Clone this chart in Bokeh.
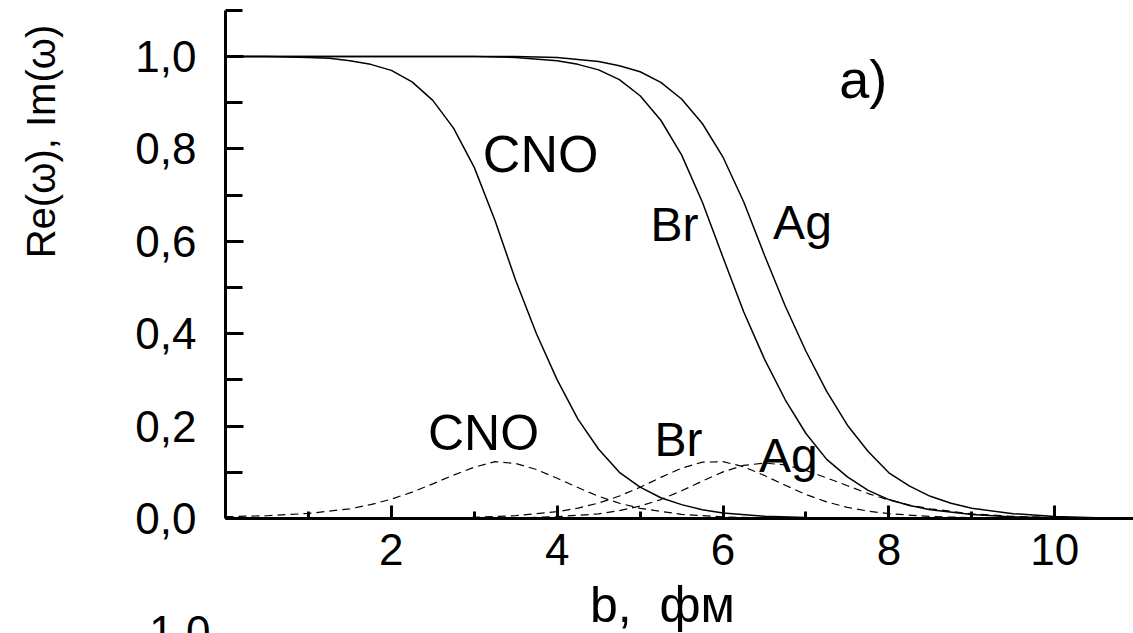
from bokeh.plotting import figure
from bokeh.models import Range1d, FixedTicker, CustomJSTickFormatter, Label, LinearAxis
from bokeh.embed import file_html
from bokeh.resources import INLINE

# ---- data ----
cno_re_x = [0, 0.5, 1.0, 1.25, 1.5, 1.75, 2.0, 2.25, 2.5, 2.75, 3.0, 3.25, 3.5, 3.75, 4.0, 4.25, 4.5, 4.75,
            5.0, 5.25, 5.5, 5.75, 6.0, 6.5, 7.0, 8.0, 9.0, 10.0, 11.0]
cno_re_y = [1.0, 1.0, 0.998, 0.996, 0.991, 0.983, 0.97, 0.945, 0.905, 0.845, 0.76, 0.645, 0.515, 0.40, 0.30,
            0.215, 0.15, 0.10, 0.068, 0.045, 0.03, 0.019, 0.012, 0.005, 0.002, 0.0004, 0.0001, 0.0, 0.0]

br_re_x = [0, 3.0, 3.5, 4.0, 4.25, 4.5, 4.75, 5.0, 5.25, 5.5, 5.75, 6.0, 6.25, 6.5, 6.75, 7.0, 7.25, 7.5,
           7.75, 8.0, 8.25, 8.5, 9.0, 9.5, 10.0, 11.0]
br_re_y = [1.0, 1.0, 0.998, 0.991, 0.983, 0.971, 0.950, 0.915, 0.862, 0.787, 0.685, 0.565, 0.447, 0.345, 0.257,
           0.184, 0.128, 0.090, 0.061, 0.041, 0.028, 0.019, 0.0085, 0.0035, 0.0014, 0.0001]

ag_re_x = [0, 3.5, 4.0, 4.5, 4.75, 5.0, 5.25, 5.5, 5.75, 6.0, 6.25, 6.5, 6.75, 7.0, 7.25, 7.5, 7.75, 8.0,
           8.25, 8.5, 8.75, 9.0, 9.5, 10.0, 10.5, 11.0]
ag_re_y = [1.0, 1.0, 0.998, 0.989, 0.98, 0.967, 0.944, 0.908, 0.855, 0.782, 0.685, 0.57, 0.46, 0.362, 0.275,
           0.202, 0.145, 0.099, 0.07, 0.048, 0.033, 0.022, 0.0105, 0.0045, 0.0018, 0.0007]

cno_im_x = [0, 0.5, 1.0, 1.5, 1.75, 2.0, 2.25, 2.5, 2.75, 3.0, 3.25, 3.5, 3.75, 4.0, 4.25, 4.5, 4.75, 5.0,
            5.5, 6.0, 6.5, 7.0, 8.0]
cno_im_y = [0.004, 0.006, 0.011, 0.021, 0.030, 0.042, 0.057, 0.075, 0.094, 0.111, 0.123, 0.119, 0.106, 0.087,
            0.067, 0.048, 0.033, 0.022, 0.009, 0.0035, 0.0012, 0.0004, 0.0]

br_im_x = [2.5, 3.0, 3.5, 4.0, 4.25, 4.5, 4.75, 5.0, 5.25, 5.5, 5.75, 6.0, 6.25, 6.5, 6.75, 7.0, 7.25, 7.5,
           7.75, 8.0, 8.5, 9.0, 9.5, 10.0]
br_im_y = [0.0008, 0.0025, 0.0062, 0.0147, 0.0225, 0.0334, 0.0487, 0.0676, 0.089, 0.109, 0.122, 0.123, 0.112,
           0.093, 0.072, 0.052, 0.036, 0.024, 0.016, 0.0104, 0.0043, 0.0018, 0.0007, 0.0003]

ag_im_x = [3.5, 4.0, 4.5, 4.75, 5.0, 5.25, 5.5, 5.75, 6.0, 6.25, 6.5, 6.75, 7.0, 7.25, 7.5, 7.75, 8.0, 8.25,
           8.5, 9.0, 9.5, 10.0, 10.5, 11.0]
ag_im_y = [0.001, 0.004, 0.010, 0.017, 0.027, 0.041, 0.060, 0.081, 0.101, 0.115, 0.120, 0.116, 0.104, 0.088,
           0.071, 0.054, 0.040, 0.029, 0.021, 0.010, 0.0045, 0.002, 0.0008, 0.0003]

x_ticks = [2, 4, 6, 8, 10]
x_minor = [1, 3, 5, 7, 9]
y_ticks = [0.0, 0.2, 0.4, 0.6, 0.8, 1.0]
y_minor = [0.1, 0.3, 0.5, 0.7, 0.9, 1.1]

FONT = "Liberation Sans"

# The frame covers the whole canvas; axes are pinned at x=0 / y=0 so that
# all the texts around them are drawn inside the frame.
p = figure(width=1133, height=633, output_backend="svg", toolbar_location=None,
           x_range=Range1d(-2.7134, 10.95), y_range=Range1d(-0.2489, 1.1212),
           x_axis_location=None, y_axis_location=None)
p.min_border = 0
p.min_border_left = 0
p.min_border_right = 0
p.min_border_top = 0
p.min_border_bottom = 0
p.outline_line_color = None
p.xgrid.visible = False
p.ygrid.visible = False
p.background_fill_color = "white"
p.border_fill_color = "white"

xaxis = LinearAxis(fixed_location=0, bounds=(0, 10.95))
yaxis = LinearAxis(fixed_location=0, bounds=(0, 1.1))
for ax in (xaxis, yaxis):
    ax.axis_line_width = 3
    ax.axis_line_color = "black"
    ax.major_tick_out = 0
    ax.minor_tick_out = 0
    ax.major_tick_line_width = 3
    ax.minor_tick_line_width = 3
    ax.major_tick_line_color = "black"
    ax.minor_tick_line_color = "black"
    ax.major_label_text_font = FONT
    ax.major_label_text_font_size = "44px"
    ax.major_label_text_color = "black"

xaxis.ticker = FixedTicker(ticks=x_ticks, minor_ticks=x_minor)
yaxis.ticker = FixedTicker(ticks=y_ticks, minor_ticks=y_minor)
xaxis.formatter = CustomJSTickFormatter(code="return tick.toFixed(0);")
yaxis.formatter = CustomJSTickFormatter(code="return tick.toFixed(1).replace('.', ',');")
xaxis.major_tick_in = 13
xaxis.minor_tick_in = 7
yaxis.major_tick_in = 18
yaxis.minor_tick_in = 17
xaxis.major_label_standoff = 15
yaxis.major_label_standoff = 29
p.add_layout(xaxis, "below")
p.add_layout(yaxis, "left")

# curves
for xs, ys in ((cno_re_x, cno_re_y), (br_re_x, br_re_y), (ag_re_x, ag_re_y)):
    p.line(xs, ys, line_color="black", line_width=1.5)
for xs, ys in ((cno_im_x, cno_im_y), (br_im_x, br_im_y), (ag_im_x, ag_im_y)):
    p.line(xs, ys, line_color="black", line_width=1.2, line_dash="8 5")

def lab(text, x, y, size, align="center", angle=0.0):
    p.add_layout(Label(x=x, y=y, text=text, text_font=FONT, text_font_size=size,
                       text_align=align, text_baseline="middle", angle=angle, text_color="black"))

lab("a)", 7.69, 0.952, "54px")
lab("CNO", 3.80, 0.788, "52px")
lab("Br", 5.415, 0.636, "48px")
lab("Ag", 6.958, 0.641, "48px")
lab("CNO", 3.111, 0.186, "50px")
lab("Br", 5.463, 0.171, "48px")
lab("Ag", 6.789, 0.136, "48px")
lab("b, \u00a0фм", 5.27, -0.188, "50px")
lab("Re(ω), Im(ω)", -2.22, 0.816, "40px", angle=1.5708)
lab("1,0", -0.181, -0.245, "44px", align="right")

open("out.html", "w").write(file_html(p, INLINE))
